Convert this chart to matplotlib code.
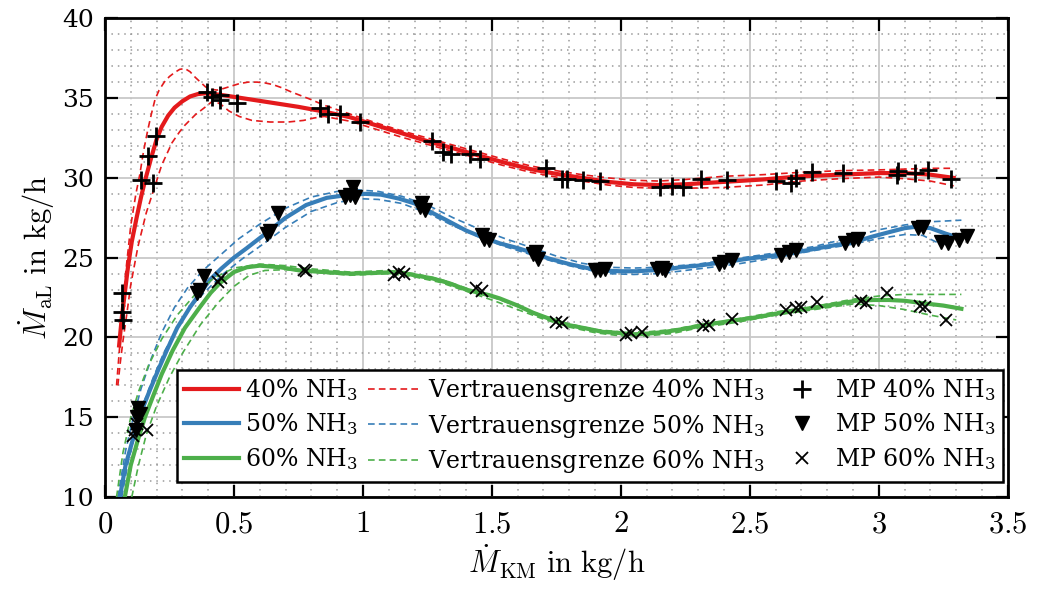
import matplotlib
matplotlib.use("Agg")
import matplotlib.pyplot as plt
from matplotlib.ticker import MultipleLocator, FuncFormatter

plt.rcParams['font.family'] = ['DejaVu Serif']
plt.rcParams['mathtext.fontset'] = 'cm'

# ---------------- data ----------------
# 40 % NH3 fit
x40 = [0.055, 0.065, 0.077, 0.09, 0.104, 0.124, 0.14, 0.155, 0.18, 0.20, 0.22, 0.245, 0.27, 0.30,
       0.33, 0.36, 0.39, 0.45, 0.55, 0.65, 0.75, 0.85, 0.95, 1.05, 1.15, 1.25, 1.35, 1.45, 1.55,
       1.65, 1.75, 1.85, 1.95, 2.05, 2.15, 2.25, 2.4, 2.55, 2.7, 2.85, 3.0, 3.1, 3.2, 3.29]
y40 = [19.5, 21.2, 22.8, 24.5, 26.0, 27.6, 28.8, 29.8, 31.3, 32.4, 33.2, 33.9, 34.4, 34.8,
       35.1, 35.25, 35.3, 35.2, 34.95, 34.7, 34.45, 34.15, 33.8, 33.3, 32.8, 32.3, 31.85, 31.4, 30.95,
       30.55, 30.25, 30.0, 29.75, 29.6, 29.55, 29.6, 29.75, 29.9, 30.1, 30.2, 30.3, 30.3, 30.2, 30.0]
x40_up = [0.045, 0.055, 0.065, 0.08, 0.10, 0.12, 0.135, 0.15, 0.166, 0.18, 0.194, 0.21, 0.23, 0.25,
          0.27, 0.29, 0.31, 0.33, 0.35, 0.37, 0.39, 0.41, 0.435, 0.46, 0.49, 0.52, 0.555, 0.59, 0.62,
          0.65, 0.685, 0.72, 0.76, 0.8, 0.85, 0.95, 1.05, 1.15, 1.25, 1.35, 1.45, 1.55,
          1.65, 1.75, 1.85, 1.95, 2.05, 2.15, 2.25, 2.4, 2.55, 2.7, 2.85, 3.0, 3.1, 3.2, 3.29]
y40_up = [17.0, 19.0, 21.0, 24.0, 27.0, 29.0, 30.2, 31.7, 33.0, 34.0, 34.9, 35.5, 36.0, 36.35,
          36.6, 36.8, 36.85, 36.65, 36.3, 36.0, 35.7, 35.55, 35.5, 35.6, 35.75, 35.9, 36.0, 36.0, 35.95,
          35.85, 35.65, 35.4, 35.15, 34.9, 34.55, 34.0, 33.45, 32.95, 32.5, 32.05, 31.6, 31.15,
          30.75, 30.45, 30.2, 30.0, 29.85, 29.8, 29.9, 30.1, 30.2, 30.35, 30.45, 30.5, 30.55, 30.6, 30.6]
x40_lo = [0.05, 0.06, 0.07, 0.085, 0.10, 0.128, 0.16, 0.194, 0.22, 0.26, 0.29, 0.31, 0.35, 0.39,
          0.42, 0.45, 0.48, 0.52, 0.57, 0.64, 0.71, 0.77, 0.81, 0.85, 0.95, 1.05, 1.15, 1.25, 1.35,
          1.45, 1.55, 1.65, 1.75, 1.85, 1.95, 2.05, 2.15, 2.25, 2.4, 2.55, 2.7, 2.85, 3.0, 3.1, 3.2, 3.29]
y40_lo = [17.0, 18.5, 19.8, 21.5, 23.3, 25.7, 27.8, 29.5, 30.8, 32.2, 32.9, 33.3, 33.95, 34.45,
          34.85, 34.6, 34.2, 33.85, 33.6, 33.5, 33.5, 33.6, 33.75, 33.85, 33.55, 33.05, 32.55, 32.1, 31.65,
          31.2, 30.75, 30.35, 30.05, 29.8, 29.55, 29.4, 29.35, 29.35, 29.4, 29.55, 29.8, 29.95, 30.05, 29.95, 29.8, 29.5]
mx40 = [0.066, 0.068, 0.07, 0.14, 0.166, 0.186, 0.197, 0.395, 0.414, 0.445, 0.447, 0.51,
        0.832, 0.864, 0.91, 0.99, 1.266, 1.31, 1.34, 1.417, 1.455, 1.71, 1.77, 1.79, 1.855, 1.92,
        2.15, 2.2, 2.24, 2.31, 2.41, 2.60, 2.66, 2.68, 2.74, 2.86, 3.07, 3.075, 3.14, 3.19, 3.28]
my40 = [22.8, 21.6, 21.1, 29.85, 31.4, 29.7, 32.6, 35.4, 35.05, 35.2, 34.9, 34.7,
        34.4, 34.0, 34.0, 33.5, 32.3, 31.6, 31.5, 31.5, 31.2, 30.6, 29.9, 29.9, 29.85, 29.8,
        29.4, 29.5, 29.4, 29.9, 29.85, 29.8, 29.7, 30.0, 30.35, 30.3, 30.2, 30.4, 30.3, 30.5, 29.9]

# 50 % NH3 fit
x50 = [0.058, 0.08, 0.108, 0.14, 0.174, 0.21, 0.24, 0.28, 0.33, 0.37, 0.406, 0.45, 0.5, 0.55,
       0.59, 0.63, 0.7, 0.78, 0.86, 0.95, 1.01, 1.07, 1.14, 1.2, 1.27, 1.33, 1.4, 1.46, 1.53, 1.6,
       1.66, 1.72, 1.8, 1.87, 1.92, 2.0, 2.06, 2.11, 2.17, 2.23, 2.3, 2.39, 2.5, 2.6, 2.7, 2.8,
       2.91, 2.97, 3.04, 3.10, 3.15, 3.2, 3.26, 3.32]
y50 = [10.0, 12.0, 13.6, 15.3, 16.7, 18.1, 19.2, 20.6, 21.9, 22.8, 23.6, 24.3, 25.0, 25.6,
       26.1, 26.6, 27.5, 28.3, 28.75, 28.95, 29.0, 28.95, 28.7, 28.4, 27.8, 27.3, 26.7, 26.3, 25.9, 25.6,
       25.3, 24.95, 24.6, 24.35, 24.2, 24.15, 24.15, 24.2, 24.25, 24.4, 24.5, 24.7, 24.95, 25.15, 25.4, 25.7,
       26.0, 26.3, 26.6, 26.85, 26.95, 26.85, 26.5, 26.2]
x50_up = [0.05, 0.08, 0.11, 0.14, 0.18, 0.22, 0.27, 0.32, 0.38, 0.45, 0.52, 0.6, 0.7, 0.8, 0.9,
          0.98, 1.06, 1.15, 1.25, 1.35, 1.45, 1.55, 1.65, 1.75, 1.85, 1.95, 2.05, 2.15, 2.3, 2.45,
          2.6, 2.75, 2.9, 3.0, 3.1, 3.2, 3.32]
y50_up = [10.0, 12.9, 15.0, 16.8, 18.7, 20.3, 21.9, 23.1, 24.2, 25.2, 26.2, 27.1, 28.1, 28.8, 29.15,
          29.25, 29.15, 28.85, 28.3, 27.5, 26.8, 26.2, 25.65, 25.1, 24.65, 24.4, 24.35, 24.4, 24.6, 24.95,
          25.3, 25.7, 26.3, 26.75, 27.05, 27.25, 27.35]
x50_lo = [0.065, 0.09, 0.12, 0.15, 0.19, 0.23, 0.28, 0.33, 0.39, 0.46, 0.53, 0.6, 0.7, 0.8, 0.9,
          0.98, 1.06, 1.15, 1.25, 1.35, 1.45, 1.55, 1.65, 1.75, 1.85, 1.95, 2.05, 2.15, 2.3, 2.45,
          2.6, 2.75, 2.9, 3.0, 3.1, 3.17, 3.22, 3.28]
y50_lo = [10.0, 12.2, 14.2, 15.9, 17.6, 19.1, 20.6, 21.9, 22.9, 24.0, 24.9, 25.7, 26.9, 27.9, 28.45,
          28.7, 28.65, 28.4, 27.8, 27.0, 26.3, 25.7, 25.2, 24.7, 24.3, 24.0, 23.95, 24.0, 24.3, 24.6,
          25.0, 25.45, 25.85, 26.2, 26.45, 26.4, 26.0, 25.75]
mx50 = [0.12, 0.125, 0.13, 0.135, 0.356, 0.37, 0.383, 0.63, 0.64, 0.67, 0.93, 0.95, 0.96, 0.97,
        1.22, 1.23, 1.24, 1.46, 1.47, 1.49, 1.66, 1.67, 1.68, 1.90, 1.92, 1.94, 2.14, 2.16, 2.17,
        2.38, 2.40, 2.43, 2.62, 2.65, 2.68, 2.87, 2.90, 2.92, 3.15, 3.17, 3.24, 3.27, 3.31, 3.34]
my50 = [14.2, 15.0, 15.6, 15.2, 22.8, 23.0, 23.85, 26.5, 26.7, 27.8, 28.8, 28.9, 29.4, 28.8,
        28.2, 28.4, 28.0, 26.4, 26.2, 26.1, 25.2, 25.35, 24.9, 24.2, 24.2, 24.3, 24.3, 24.35, 24.2,
        24.6, 24.7, 24.85, 25.15, 25.35, 25.5, 25.9, 26.1, 26.2, 26.85, 26.9, 26.0, 25.9, 26.1, 26.35]

# 60 % NH3 fit
x60 = [0.077, 0.1, 0.128, 0.155, 0.186, 0.22, 0.263, 0.31, 0.368, 0.41, 0.445, 0.5, 0.55, 0.6,
       0.68, 0.755, 0.85, 0.95, 1.05, 1.14, 1.2, 1.27, 1.335, 1.4, 1.45, 1.49, 1.53, 1.6, 1.66, 1.71,
       1.79, 1.87, 1.93, 1.98, 2.05, 2.11, 2.17, 2.23, 2.33, 2.43, 2.52, 2.62, 2.72, 2.82, 2.91,
       2.98, 3.04, 3.1, 3.17, 3.25, 3.32]
y60 = [10.0, 12.0, 13.6, 15.0, 16.3, 17.7, 19.2, 20.6, 21.9, 22.8, 23.4, 24.1, 24.4, 24.5,
       24.4, 24.2, 24.1, 24.0, 24.05, 24.1, 23.9, 23.7, 23.4, 23.0, 22.8, 22.65, 22.45, 22.0, 21.55, 21.25,
       20.8, 20.55, 20.35, 20.3, 20.2, 20.25, 20.35, 20.5, 20.8, 21.05, 21.25, 21.55, 21.8, 22.05, 22.3,
       22.35, 22.35, 22.3, 22.15, 22.0, 21.8]
x60_up = [0.045, 0.07, 0.1, 0.13, 0.17, 0.22, 0.28, 0.35, 0.42, 0.5, 0.6, 0.7, 0.8, 0.95, 1.1,
          1.2, 1.3, 1.4, 1.5, 1.6, 1.7, 1.8, 1.9, 2.0, 2.1, 2.2, 2.3, 2.45, 2.6, 2.75, 2.9, 3.0,
          3.1, 3.2, 3.32]
y60_up = [10.0, 12.8, 15.0, 16.6, 18.3, 19.9, 21.4, 22.7, 23.7, 24.35, 24.6, 24.5, 24.3, 24.1, 24.2,
          24.0, 23.65, 23.1, 22.55, 21.95, 21.35, 20.85, 20.5, 20.35, 20.35, 20.5, 20.8, 21.15, 21.6, 21.95, 22.4, 22.6,
          22.7, 22.7, 22.7]
x60_lo = [0.104, 0.13, 0.16, 0.2, 0.25, 0.3, 0.37, 0.44, 0.5, 0.56, 0.62, 0.7, 0.8, 0.95, 1.1,
          1.2, 1.3, 1.4, 1.5, 1.6, 1.7, 1.8, 1.9, 2.0, 2.1, 2.2, 2.3, 2.45, 2.6, 2.75, 2.9, 3.0,
          3.1, 3.2, 3.3]
y60_lo = [10.0, 12.0, 13.9, 15.7, 17.5, 19.0, 20.8, 22.2, 23.2, 23.9, 24.2, 24.25, 24.1, 23.9, 24.0,
          23.8, 23.45, 22.9, 22.35, 21.75, 21.15, 20.65, 20.3, 20.1, 20.1, 20.25, 20.6, 20.95, 21.4, 21.75, 22.1, 22.0,
          21.75, 21.4, 21.1]
mx60 = [0.108, 0.116, 0.125, 0.162, 0.44, 0.45, 0.77, 0.78, 1.12, 1.14, 1.16, 1.44, 1.46,
        1.75, 1.77, 2.02, 2.04, 2.08, 2.32, 2.34, 2.43, 2.64, 2.68, 2.70, 2.76, 2.93, 2.95, 3.03,
        3.16, 3.18, 3.26]
my60 = [13.8, 14.2, 14.6, 14.2, 23.5, 23.7, 24.2, 24.15, 23.9, 24.1, 23.95, 23.1, 22.9,
        21.0, 20.9, 20.15, 20.3, 20.35, 20.7, 20.8, 21.15, 21.7, 21.85, 21.9, 22.2, 22.3, 22.15, 22.8,
        22.0, 21.9, 21.1]

labels_fit = ['40% $\\mathregular{NH_3}$', '50% $\\mathregular{NH_3}$', '60% $\\mathregular{NH_3}$']
labels_conf = ['Vertrauensgrenze 40% $\\mathregular{NH_3}$', 'Vertrauensgrenze 50% $\\mathregular{NH_3}$',
               'Vertrauensgrenze 60% $\\mathregular{NH_3}$']
labels_mp = ['MP 40% $\\mathregular{NH_3}$', 'MP 50% $\\mathregular{NH_3}$', 'MP 60% $\\mathregular{NH_3}$']

xticks = [0, 0.5, 1, 1.5, 2, 2.5, 3, 3.5]
yticks = [10, 15, 20, 25, 30, 35, 40]

# ---------------- plot ----------------
RED, BLUE, GREEN = '#e41a1c', '#377eb8', '#4daf4a'

fig = plt.figure(figsize=(10.39, 5.89), dpi=100)
ax = fig.add_axes([0.101, 0.156, 0.869, 0.813])

series = [
    (x40, y40, x40_up, y40_up, x40_lo, y40_lo, mx40, my40, RED, '+', 13, 2.0),
    (x50, y50, x50_up, y50_up, x50_lo, y50_lo, mx50, my50, BLUE, 'v', 10, 1.0),
    (x60, y60, x60_up, y60_up, x60_lo, y60_lo, mx60, my60, GREEN, 'x', 8, 1.3),
]
fit_h, conf_h, mp_h = [], [], []
for i, (xf, yf, xu, yu, xl, yl, mx, my, c, mk, ms, mew) in enumerate(series):
    h1, = ax.plot(xf, yf, color=c, lw=3.0, zorder=3, label=labels_fit[i])
    h2, = ax.plot(xu, yu, color=c, lw=1.2, ls=(0, (4, 2.5)), zorder=3, label=labels_conf[i])
    ax.plot(xl, yl, color=c, lw=1.2, ls=(0, (4, 2.5)), zorder=3)
    fit_h.append(h1)
    conf_h.append(h2)
for i, (xf, yf, xu, yu, xl, yl, mx, my, c, mk, ms, mew) in enumerate(series):
    h3, = ax.plot(mx, my, ls='none', marker=mk, color='black', ms=ms, mew=mew, zorder=4,
                  label=labels_mp[i])
    mp_h.append(h3)

ax.set_xlim(0, 3.5)
ax.set_ylim(10, 40)
ax.set_xticks(xticks)
ax.set_yticks(yticks)
ax.xaxis.set_minor_locator(MultipleLocator(0.1))
ax.yaxis.set_minor_locator(MultipleLocator(1))
ax.xaxis.set_major_formatter(FuncFormatter(lambda v, p: '$%g$' % v))
ax.grid(which='major', color='#c8c8c8', lw=1.3, ls='-', zorder=0)
ax.grid(which='minor', color='#9a9a9a', lw=1.1, ls=(0, (1, 3.2)), zorder=0)
ax.set_axisbelow(True)
ax.tick_params(which='major', direction='in', length=9, width=1.6, top=True, right=True,
               color='black')
ax.tick_params(which='minor', length=0)
ax.tick_params(axis='x', labelsize=22, pad=8)
ax.tick_params(axis='y', labelsize=18, pad=8)
for s in ax.spines.values():
    s.set_linewidth(2.0)

ax.set_xlabel(r'$\dot{M}_\mathrm{KM}\ \mathrm{in\ kg/h}$', fontsize=22, labelpad=2)
ax.set_ylabel(r'$\dot{M}_\mathrm{aL}\ \mathrm{in\ kg/h}$', fontsize=22, labelpad=4)

leg = ax.legend(handles=fit_h + conf_h + mp_h, ncol=3, loc='lower right',
                bbox_to_anchor=(0.9945, 0.031), fontsize=17, frameon=True, fancybox=False,
                framealpha=1, edgecolor='black', handlelength=2.3, handletextpad=0.25,
                columnspacing=0.45, labelspacing=0.36, borderpad=0.3, borderaxespad=0)
leg.get_frame().set_linewidth(1.8)
leg.set_zorder(10)

fig.savefig('out.png', dpi=100)
